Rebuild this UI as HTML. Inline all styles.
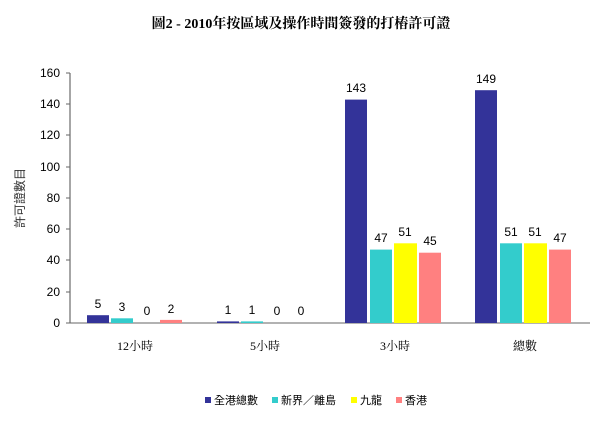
<!DOCTYPE html>
<html><head><meta charset="utf-8"><style>
body{margin:0;background:#fff;width:602px;height:418px;overflow:hidden}
</style></head><body>
<svg width="602" height="418" xmlns="http://www.w3.org/2000/svg" font-family="Liberation Sans, Noto Sans CJK TC, sans-serif">
<text x="301" y="28" text-anchor="middle" font-size="14" font-weight="bold" font-family="Liberation Serif, Noto Serif CJK SC, serif">圖2 - 2010年按區域及操作時間簽發的打樁許可證</text>
<line x1="70" y1="73" x2="70" y2="323" stroke="#888" stroke-width="1.5"/>
<line x1="70" y1="323" x2="590" y2="323" stroke="#666" stroke-width="1"/>
<g font-size="12" text-anchor="end" fill="#000">
<text x="60" y="327">0</text><text x="60" y="296">20</text><text x="60" y="264">40</text><text x="60" y="233">60</text><text x="60" y="202">80</text><text x="60" y="171">100</text><text x="60" y="139">120</text><text x="60" y="108">140</text><text x="60" y="77">160</text>
</g>
<g stroke="#666">
<line x1="66" y1="323" x2="70" y2="323"/><line x1="66" y1="292" x2="70" y2="292"/><line x1="66" y1="260" x2="70" y2="260"/><line x1="66" y1="229" x2="70" y2="229"/><line x1="66" y1="198" x2="70" y2="198"/><line x1="66" y1="167" x2="70" y2="167"/><line x1="66" y1="135" x2="70" y2="135"/><line x1="66" y1="104" x2="70" y2="104"/><line x1="66" y1="73" x2="70" y2="73"/>
</g>
<text x="24" y="198" font-size="12" text-anchor="middle" transform="rotate(-90 24 198)" fill="#333">許可證數目</text>
<g id="bars"></g>
<g font-size="12" text-anchor="middle">
<!-- group1 -->
<rect x="87" y="315.2" width="22" height="7.8" fill="#333399"/>
<rect x="111" y="318.3" width="22" height="4.7" fill="#33CCCC"/>
<rect x="160" y="319.9" width="22" height="3.1" fill="#FF8080"/>
<text x="98" y="308">5</text><text x="122" y="311">3</text><text x="147" y="315">0</text><text x="171" y="313">2</text>
<!-- group2 -->
<rect x="217" y="321.4" width="22" height="1.6" fill="#333399"/>
<rect x="241" y="321.4" width="22" height="1.6" fill="#33CCCC"/>
<text x="228" y="314">1</text><text x="252" y="314">1</text><text x="277" y="315">0</text><text x="301" y="315">0</text>
<!-- group3 -->
<rect x="345" y="99.6" width="22" height="223.4" fill="#333399"/>
<rect x="370" y="249.6" width="22" height="73.4" fill="#33CCCC"/>
<rect x="394" y="243.3" width="23" height="79.7" fill="#FFFF00"/>
<rect x="419" y="252.7" width="22" height="70.3" fill="#FF8080"/>
<text x="356" y="92">143</text><text x="381" y="242">47</text><text x="405" y="236">51</text><text x="430" y="245">45</text>
<!-- group4 -->
<rect x="475" y="90.2" width="22" height="232.8" fill="#333399"/>
<rect x="500" y="243.3" width="22" height="79.7" fill="#33CCCC"/>
<rect x="524" y="243.3" width="23" height="79.7" fill="#FFFF00"/>
<rect x="549" y="249.6" width="22" height="73.4" fill="#FF8080"/>
<text x="486" y="83">149</text><text x="511" y="236">51</text><text x="535" y="236">51</text><text x="560" y="242">47</text>
</g>
<g font-size="12" text-anchor="middle" font-family="Liberation Serif, Noto Serif CJK SC, serif">
<text x="135" y="350">12小時</text><text x="265" y="350">5小時</text><text x="395" y="350">3小時</text><text x="525" y="350">總數</text>
</g>
<g font-size="11">
<rect x="205" y="397" width="6" height="6" fill="#333399"/><text x="214" y="404">全港總數</text>
<rect x="272" y="397" width="6" height="6" fill="#33CCCC"/><text x="281" y="404">新界／離島</text>
<rect x="351" y="397" width="6" height="6" fill="#FFFF00"/><text x="360" y="404">九龍</text>
<rect x="396" y="397" width="6" height="6" fill="#FF8080"/><text x="405" y="404">香港</text>
</g>
</svg>
</body></html>
